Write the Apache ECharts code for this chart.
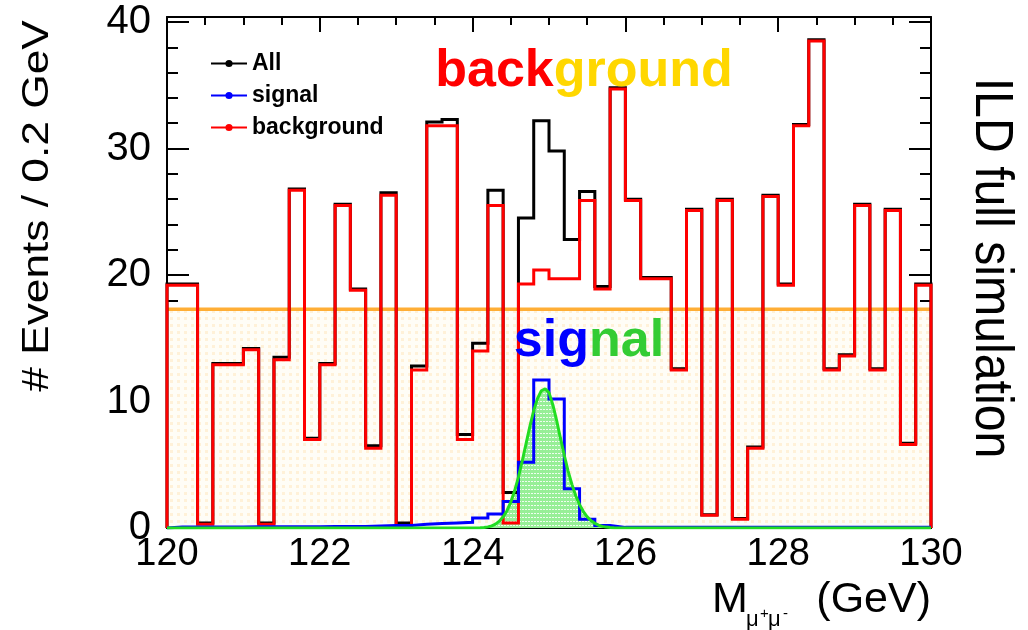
<!DOCTYPE html>
<html>
<head>
<meta charset="utf-8">
<script src="https://cdn.jsdelivr.net/npm/echarts@6/dist/echarts.min.js"></script>
<style>
  html, body { margin: 0; padding: 0; background: #fff; }
  #chart { width: 1028px; height: 630px; }
</style>
</head>
<body>
<div id="chart"></div>
<script>
// Dimuon invariant mass, 0.2 GeV bins from 120 to 130 GeV
const MASS_MIN = 120;
const MASS_MAX = 130;
const BIN_WIDTH = 0.2;

// Weighted event counts per bin
const backgroundCounts = [
  19.2, 19.2, 0.3, 12.9, 12.9, 14.1, 0.3, 13.3, 26.7, 7.0,
  12.9, 25.5, 18.8, 6.3, 26.3, 0.2, 12.5, 31.8, 31.8, 7.0,
  14.0, 25.5, 0.4, 19.3, 20.4, 19.7, 19.7, 25.9, 18.9, 34.7,
  25.9, 19.7, 19.7, 12.5, 25.1, 1.0, 25.9, 0.7, 6.3, 26.2,
  19.2, 31.8, 38.5, 12.5, 13.6, 25.5, 12.5, 25.1, 6.6, 19.2
];
const allCounts = [
  19.3, 19.3, 0.4, 13.0, 13.0, 14.2, 0.4, 13.5, 26.8, 7.1,
  13.0, 25.6, 18.9, 6.5, 26.5, 0.4, 12.8, 32.1, 32.3, 7.4,
  14.6, 26.7, 2.8, 24.5, 32.2, 29.8, 22.8, 26.6, 19.1, 34.8,
  26.0, 19.8, 19.8, 12.6, 25.2, 1.05, 26.0, 0.75, 6.4, 26.3,
  19.3, 31.9, 38.6, 12.6, 13.7, 25.6, 12.6, 25.2, 6.7, 19.3
];
const signalCounts = [
  0.08, 0.08, 0.08, 0.08, 0.08, 0.1, 0.1, 0.1, 0.1, 0.1,
  0.12, 0.12, 0.12, 0.15, 0.2, 0.2, 0.3, 0.35, 0.4, 0.45,
  0.8, 1.1, 2.1, 5.2, 11.7, 10.2, 3.1, 0.7, 0.2, 0.05,
  0.05, 0.05, 0.05, 0.05, 0.05, 0.05, 0.05, 0.05, 0.05, 0.05,
  0.05, 0.05, 0.05, 0.05, 0.05, 0.05, 0.05, 0.05, 0.05, 0.05
];

// Flat background fit level
const bkgFitLevel = 17.3;

// Signal fit curve, sampled along the mass axis
const sigFitMass = [
  120, 124.10, 124.15, 124.20, 124.25, 124.30, 124.35, 124.40, 124.45, 124.50,
  124.55, 124.60, 124.65, 124.70, 124.75, 124.80, 124.85, 124.90, 124.95, 125.00,
  125.05, 125.10, 125.15, 125.20, 125.25, 125.30, 125.35, 125.40, 125.45, 125.50,
  125.55, 125.60, 125.65, 125.70, 125.75, 125.80, 125.85, 130
];
const sigFitValue = [
  0, 0.02, 0.04, 0.09, 0.17, 0.31, 0.54, 0.88, 1.37, 2.05,
  2.94, 4.03, 5.30, 6.67, 8.04, 9.28, 10.25, 10.85, 11.0, 10.7,
  9.75, 8.5, 7.1, 5.75, 4.5, 3.45, 2.55, 1.85, 1.3, 0.88,
  0.58, 0.37, 0.22, 0.13, 0.07, 0.04, 0.02, 0
];

// Axis ticks
const xTickStep = 2;
const yMax = 40.4;
const yMajorTicks = [0, 10, 20, 30, 40];
const yMinorTicks = [2, 4, 6, 8, 12, 14, 16, 18, 22, 24, 26, 28, 32, 34, 36, 38];

const FONT = 'Liberation Sans, Arial, Helvetica, sans-serif';

// Outline of a histogram: left edge at zero, one step per bin, right edge back to zero
function histOutline(counts) {
  const pts = [[MASS_MIN, 0]];
  counts.forEach((v, i) => pts.push([+(MASS_MIN + i * BIN_WIDTH).toFixed(2), v]));
  pts.push([MASS_MAX, counts[counts.length - 1]]);
  pts.push([MASS_MAX, 0]);
  return pts;
}

function tilePattern(w, h, bg, fg, rects) {
  const c = document.createElement('canvas');
  c.width = w; c.height = h;
  const g = c.getContext('2d');
  g.fillStyle = bg; g.fillRect(0, 0, w, h);
  g.fillStyle = fg;
  rects.forEach(r => g.fillRect(r[0], r[1], r[2], r[3]));
  return c;
}

const bkgPattern = tilePattern(7, 7, '#fffdf6', '#fff1d8', [[2, 2, 3, 3]]);
const sigPattern = tilePattern(3, 4, '#97ef97', 'rgba(255,255,255,0.85)', [[0, 1, 2, 1]]);

const chart = echarts.init(document.getElementById('chart'), null, { renderer: 'canvas' });

const tickLine = { color: '#000', width: 2 };

function xAxisDef(position, showLabel) {
  return {
    type: 'value', position: position, min: MASS_MIN, max: MASS_MAX, interval: xTickStep,
    axisLine: { show: true, onZero: false, lineStyle: { color: '#000', width: 2 } },
    axisTick: { show: true, inside: true, length: 15, lineStyle: tickLine },
    minorTick: { show: true, splitNumber: 4, length: 8, lineStyle: { color: '#000', width: 2 } },
    axisLabel: showLabel
      ? { show: true, fontSize: 38, color: '#000', fontFamily: FONT, margin: 8 }
      : { show: false },
    splitLine: { show: false }
  };
}

function yAxisDef(position, ticks, len, withLine, withLabel) {
  return {
    type: 'value', position: position, min: 0, max: yMax,
    axisLine: { show: withLine, onZero: false, lineStyle: { color: '#000', width: 2 } },
    axisTick: { show: true, inside: true, length: len, customValues: ticks, lineStyle: tickLine },
    axisLabel: withLabel
      ? { show: true, customValues: ticks, fontSize: 40, color: '#000', fontFamily: FONT, margin: 16 }
      : { show: false },
    splitLine: { show: false }
  };
}

const option = {
  animation: false,
  backgroundColor: '#fff',
  textStyle: { fontFamily: FONT },
  grid: { left: 167, right: 97, top: 17, bottom: 102, outerBoundsMode: 'none' },
  xAxis: [xAxisDef('bottom', true), xAxisDef('top', false)],
  yAxis: [
    yAxisDef('left', yMajorTicks, 22, true, true),
    yAxisDef('left', yMinorTicks, 11, false, false),
    yAxisDef('right', yMajorTicks, 22, true, false),
    yAxisDef('right', yMinorTicks, 11, false, false)
  ],
  legend: {
    data: ['All', 'signal', 'background'],
    orient: 'vertical', left: 205, top: 47,
    itemWidth: 36, itemHeight: 9, itemGap: 9,
    selectedMode: false,
    textStyle: { fontSize: 23, fontWeight: 'bold', color: '#000', fontFamily: FONT }
  },
  series: [
    {
      name: 'background fit', type: 'line', z: 1,
      data: [[MASS_MIN, bkgFitLevel], [MASS_MAX, bkgFitLevel]],
      symbol: 'none', silent: true,
      lineStyle: { color: '#ffae35', width: 3.5 },
      areaStyle: { color: { image: bkgPattern, repeat: 'repeat' }, opacity: 1 }
    },
    {
      name: 'signal fit area', type: 'line', z: 2,
      data: sigFitMass.map((m, i) => [m, sigFitValue[i]]),
      symbol: 'none', silent: true,
      lineStyle: { width: 0, opacity: 0 },
      areaStyle: { color: { image: sigPattern, repeat: 'repeat' }, opacity: 1 }
    },
    {
      name: 'All', type: 'line', z: 3, step: 'end',
      data: histOutline(allCounts),
      symbol: 'none', color: '#000',
      lineStyle: { color: '#000', width: 3, join: 'miter' }
    },
    {
      name: 'background', type: 'line', z: 4, step: 'end',
      data: histOutline(backgroundCounts),
      symbol: 'none', color: '#ff0000',
      lineStyle: { color: '#ff0000', width: 3, join: 'miter' }
    },
    {
      name: 'signal', type: 'line', z: 5, step: 'end',
      data: histOutline(signalCounts),
      symbol: 'none', color: '#0000ff',
      lineStyle: { color: '#0000ff', width: 3, join: 'miter' }
    },
    {
      name: 'signal fit', type: 'line', z: 6,
      data: sigFitMass.map((m, i) => [m, sigFitValue[i]]),
      symbol: 'none', silent: true,
      lineStyle: { color: '#22dd22', width: 3 }
    }
  ],
  graphic: [
    // y-axis title
    {
      type: 'text', x: 38, y: 206, rotation: Math.PI / 2, scaleX: 1.23,
      style: { text: '# Events / 0.2 GeV', font: '36px ' + FONT, fill: '#000',
               align: 'center', verticalAlign: 'middle' }
    },
    // side caption
    {
      type: 'text', x: 991, y: 268, rotation: -Math.PI / 2, scaleX: 0.91,
      style: { text: 'ILD full simulation', font: '53px ' + FONT, fill: '#000',
               align: 'center', verticalAlign: 'middle' }
    },
    // x-axis title: M with mu+ mu- subscript
    {
      type: 'text', x: 712, y: 600,
      style: { text: 'M', font: '43px ' + FONT, fill: '#000', align: 'left', verticalAlign: 'middle' }
    },
    {
      type: 'text', x: 746, y: 620,
      style: { text: 'μ', font: '22px ' + FONT, fill: '#000', align: 'left', verticalAlign: 'middle' }
    },
    {
      type: 'text', x: 760, y: 614,
      style: { text: '+', font: '15px ' + FONT, fill: '#000', align: 'left', verticalAlign: 'middle' }
    },
    {
      type: 'text', x: 768, y: 620,
      style: { text: 'μ', font: '22px ' + FONT, fill: '#000', align: 'left', verticalAlign: 'middle' }
    },
    {
      type: 'text', x: 783, y: 614,
      style: { text: '-', font: '15px ' + FONT, fill: '#000', align: 'left', verticalAlign: 'middle' }
    },
    {
      type: 'text', x: 931, y: 600,
      style: { text: '(GeV)', font: '43px ' + FONT, fill: '#000', align: 'right', verticalAlign: 'middle' }
    },
    // in-plot labels
    {
      type: 'text', x: 584, y: 72, z: 10,
      style: {
        text: '{r|back}{g|ground}', align: 'center', verticalAlign: 'middle',
        rich: {
          r: { fill: '#ff0000', font: 'bold 52px ' + FONT },
          g: { fill: '#ffd700', font: 'bold 52px ' + FONT }
        }
      }
    },
    {
      type: 'text', x: 589, y: 342, z: 10,
      style: {
        text: '{b|sig}{g|nal}', align: 'center', verticalAlign: 'middle',
        rich: {
          b: { fill: '#0000ff', font: 'bold 52px ' + FONT },
          g: { fill: '#33cc33', font: 'bold 52px ' + FONT }
        }
      }
    }
  ]
};

chart.setOption(option);
</script>
</body>
</html>
